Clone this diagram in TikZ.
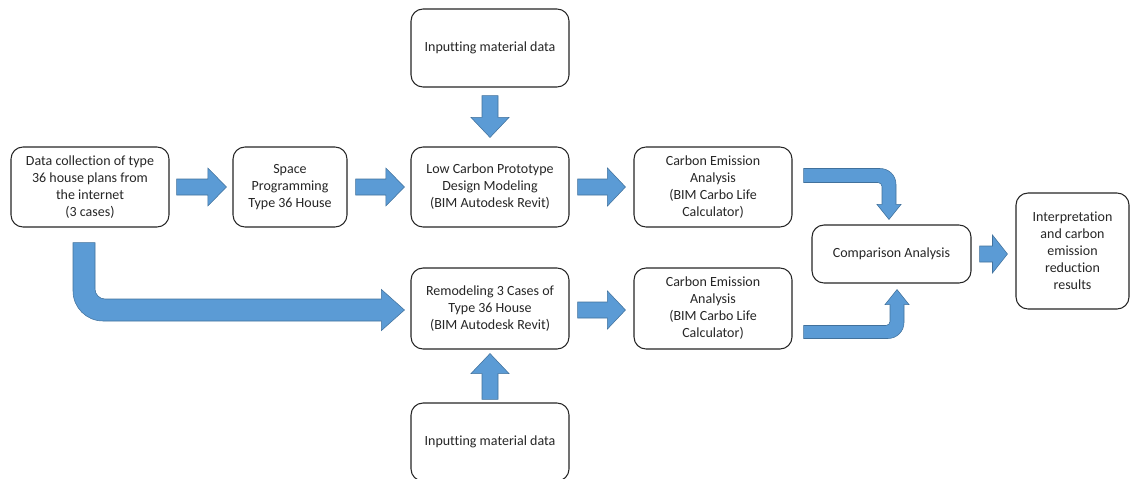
\documentclass[tikz,border=0pt]{standalone}
\usepackage{fontspec}
\setmainfont[Ligatures={NoCommon}]{Carlito}
\usetikzlibrary{calc}
\definecolor{arrowblue}{HTML}{5B9BD5}
\definecolor{arrowedge}{HTML}{41719C}
\definecolor{boxline}{HTML}{262626}
\tikzset{
  box/.style={draw=boxline, line width=0.8pt, rounded corners=9pt, fill=white,
    align=center, inner sep=0pt, font=\fontsize{10.5}{12.75}\selectfont, text=black!85},
  blk/.style={fill=arrowblue, draw=arrowedge, line width=0.4pt, line join=miter}
}
% horizontal block arrow: start, tip, head length (pt)
\newcommand\hblock[3]{%
  \path[blk] let \p1=(#1), \p2=(#2) in
    (\x1,\y1+6pt) -- (\x2-#3,\y1+6pt) -- (\x2-#3,\y1+14.25pt) -- (\x2,\y1)
    -- (\x2-#3,\y1-14.25pt) -- (\x2-#3,\y1-6pt) -- (\x1,\y1-6pt) -- cycle;}
% vertical block arrow: start, tip, head length (pt), direction sign (+1 down, -1 up)
\newcommand\vblock[4]{%
  \path[blk] let \p1=(#1), \p2=(#2) in
    (\x1-6pt,\y1) -- (\x1-6pt,\y2+#4*#3) -- (\x1-14.25pt,\y2+#4*#3) -- (\x1,\y2)
    -- (\x1+14.25pt,\y2+#4*#3) -- (\x1+6pt,\y2+#4*#3) -- (\x1+6pt,\y1) -- cycle;}
\begin{document}
\begin{tikzpicture}[x=0.75pt,y=-0.75pt]
\useasboundingbox (0,0) rectangle (1130,478);
\clip (0,0) rectangle (1130,478);

\node[box, minimum width=118.5pt, minimum height=60pt] (A) at (90,187)
  {Data collection of type\\36 house plans from\\the internet\\(3 cases)};
\node[box, minimum width=85.5pt, minimum height=60pt] (B) at (290,187)
  {Space\\Programming\\Type 36 House};
\node[box, minimum width=118.5pt, minimum height=60pt] (C) at (490,187)
  {Low Carbon Prototype\\Design Modeling\\(BIM Autodesk Revit)};
\node[box, minimum width=118.5pt, minimum height=60pt] (D) at (713,187)
  {Carbon Emission\\Analysis\\(BIM Carbo Life\\Calculator)};
\node[box, minimum width=118.5pt, minimum height=58.5pt] (T) at (490,48)
  {Inputting material data};
\node[box, minimum width=118.5pt, minimum height=60.75pt] (E) at (490,308.5)
  {Remodeling 3 Cases of\\Type 36 House\\(BIM Autodesk Revit)};
\node[box, minimum width=118.5pt, minimum height=60.75pt] (F) at (713,308.5)
  {Carbon Emission\\Analysis\\(BIM Carbo Life\\Calculator)};
\node[box, minimum width=118.5pt, minimum height=58.5pt] (Bt) at (490,442)
  {Inputting material data};
\node[box, minimum width=119.25pt, minimum height=43.5pt] (G) at (891.5,254)
  {Comparison Analysis};
\node[box, minimum width=84.75pt, minimum height=87pt] (H) at (1072.5,251)
  {Interpretation\\and carbon\\emission\\reduction\\results};

% straight block arrows
\hblock{$(A.east)+(7,0)$}{$(B.west)+(-6,0)$}{14pt}
\hblock{$(B.east)+(8,0)$}{$(C.west)+(-6,0)$}{14pt}
\hblock{$(C.east)+(8,0)$}{$(D.west)+(-8,0)$}{13.5pt}
\hblock{$(E.east)+(8,1.5)$}{$(F.west)+(-8,1.5)$}{13.5pt}
\hblock{$(G.east)+(8,0)$}{$(H.west)+(-8,3)$}{11.25pt}
\vblock{$(T.south)+(0,8)$}{$(C.north)+(0,-9)$}{15pt}{1}
\vblock{$(Bt.north)+(0,-3)$}{$(E.south)+(0,4)$}{15pt}{-1}

% L-shaped arrow from A to E
\coordinate (Ls) at ($(A.south)+(-6,15)$);
\coordinate (Le) at ($(E.west)+(-6,1.5)$);
\coordinate (Lc) at (Ls |- Le);
\path[blk] ($(Ls)+(-11,0)$) -- ($(Lc)+(-11,-19)$)
  .. controls ($(Lc)+(-11,-2.4)$) and ($(Lc)+(2.4,11)$) .. ($(Lc)+(19,11)$)
  -- ($(Le)+(-23,11)$) -- ($(Le)+(-23,20.5)$) -- (Le) -- ($(Le)+(-23,-20.5)$)
  -- ($(Le)+(-23,-11)$) -- ($(Lc)+(21,-11)$)
  .. controls ($(Lc)+(15.5,-11)$) and ($(Lc)+(11,-15.5)$) .. ($(Lc)+(11,-21)$)
  -- ($(Ls)+(11,0)$) -- cycle;

% bent arrow D -> G
\coordinate (Ds) at ($(D.east)+(11,-11.5)$);
\coordinate (Dt) at ($(G.north)+(-2.5,-5)$);
\coordinate (Dc) at (Dt |- Ds);
\path[blk] ($(Ds)+(0,-7)$) -- ($(Dc)+(-9,-7)$)
  .. controls ($(Dc)+(-0.2,-7)$) and ($(Dc)+(7,-0.2)$) .. ($(Dc)+(7,9)$)
  -- ($(Dt)+(7,-15)$) -- ($(Dt)+(12,-15)$) -- (Dt) -- ($(Dt)+(-12,-15)$)
  -- ($(Dt)+(-7,-15)$) -- ($(Dc)+(-7,11)$)
  .. controls ($(Dc)+(-7,8.8)$) and ($(Dc)+(-8.8,7)$) .. ($(Dc)+(-11,7)$)
  -- ($(Ds)+(0,7)$) -- cycle;

% bent arrow F -> G
\coordinate (Fs) at ($(F.east)+(11,23.5)$);
\coordinate (Ft) at ($(G.south)+(5.5,6)$);
\coordinate (Fc) at (Ft |- Fs);
\path[blk] ($(Fs)+(0,-6.5)$) -- ($(Fc)+(-11,-6.5)$)
  .. controls ($(Fc)+(-8.8,-6.5)$) and ($(Fc)+(-7,-8.3)$) .. ($(Fc)+(-7,-10.5)$)
  -- ($(Ft)+(-7,15)$) -- ($(Ft)+(-12,15)$) -- (Ft) -- ($(Ft)+(12,15)$)
  -- ($(Ft)+(7,15)$) -- ($(Fc)+(7,-9.5)$)
  .. controls ($(Fc)+(7,-0.66)$) and ($(Fc)+(-0.16,6.5)$) .. ($(Fc)+(-9,6.5)$)
  -- ($(Fs)+(0,6.5)$) -- cycle;
\end{tikzpicture}
\end{document}
